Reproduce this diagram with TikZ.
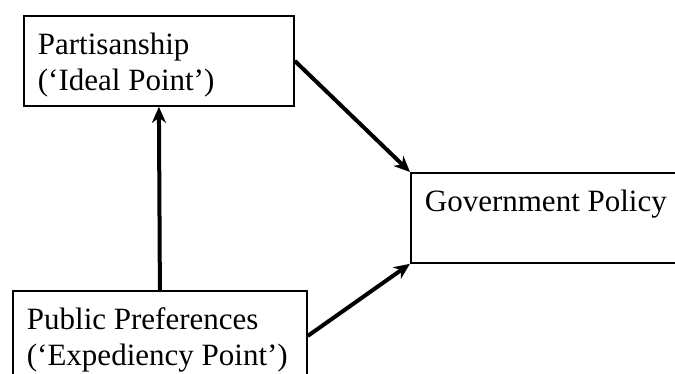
\documentclass[tikz,border=0pt]{standalone}
\usepackage{fontspec}
\setmainfont{Liberation Serif}
\usetikzlibrary{arrows.meta}
\tikzset{
  boxnode/.style = {rectangle, draw=black, line width=1.8pt, anchor=north west,
    inner xsep=14pt, inner ysep=0pt, align=flush left, text height=39pt,
    text depth=51pt, font=\fontsize{31}{36}\selectfont},% boite de texte
  link/.style = {->, line width=4pt}% fleche epaisse
}

\begin{document}
\begin{tikzpicture}[x=1pt,y=-1pt,>={Stealth[length=16pt,width=14pt,inset=5pt]}]
\useasboundingbox (0,0) rectangle (675,373);
\clip (0,0) rectangle (675,373);
\node [boxnode, text width=242pt] (party) at (23,15) {Partisanship\\(‘Ideal Point’)};
\node [boxnode, text width=266pt] (public) at (12,290) {Public Preferences\\(‘Expediency Point’)};
\node [boxnode, text width=262pt] (policy) at (410,172) {Government Policy};

\draw [link] (public.north) -- (party.south);
\draw [link] (party.east) -- (policy.north west);
\draw [link] (public.east) -- (policy.south west);
\end{tikzpicture}
\end{document}
